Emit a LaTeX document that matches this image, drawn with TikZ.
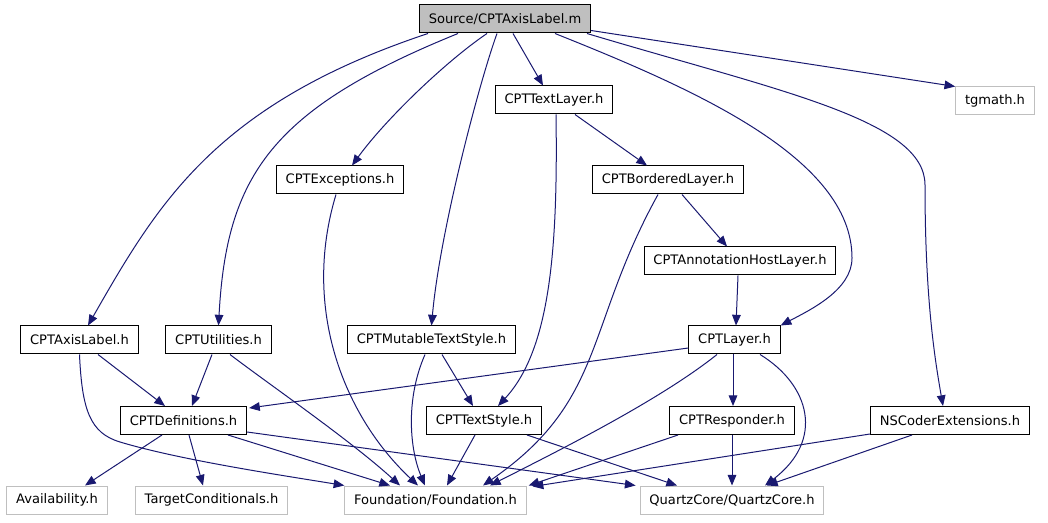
\documentclass[tikz,border=0pt]{standalone}
\usepackage{fontspec}
\setsansfont{DejaVu Sans}
\usepackage{tikz}
\usetikzlibrary{arrows.meta}
\definecolor{edgeBlue}{HTML}{191970}
\definecolor{extGray}{HTML}{BFBFBF}

\begin{document}
\begin{tikzpicture}[
    x=0.75pt, y=-0.75pt,
    fileNode/.style={rectangle, draw=black, line width=0.75pt, fill=white, font=\sffamily\fontsize{9.8}{11}\selectfont, minimum height=21pt, inner xsep=7pt, inner ysep=0pt},
    srcNode/.style={fileNode, fill=extGray},
    extNode/.style={fileNode, draw=extGray},
    depRel/.style={-{Triangle[length=8pt, width=6.5pt]}, edgeBlue, line width=0.75pt}
]
    \useasboundingbox (0,0) rectangle (1048,523);

    % Source file
    \node[srcNode] (src) at (505,19) {Source/CPTAxisLabel.m};

    % Included headers
    \node[fileNode] (textlayer)  at (554,100)   {CPTTextLayer.h};
    \node[extNode]  (tgmath)     at (995,101)   {tgmath.h};
    \node[fileNode] (exceptions) at (340,180)   {CPTExceptions.h};
    \node[fileNode] (bordered)   at (668,180)   {CPTBorderedLayer.h};
    \node[fileNode] (annothost)  at (740,261)   {CPTAnnotationHostLayer.h};
    \node[fileNode] (axislabel)  at (79.5,340)  {CPTAxisLabel.h};
    \node[fileNode] (utilities)  at (218.5,340) {CPTUtilities.h};
    \node[fileNode] (mutable)    at (431.5,340) {CPTMutableTextStyle.h};
    \node[fileNode] (layer)      at (734.5,340) {CPTLayer.h};
    \node[fileNode] (definitions) at (183.5,420.5) {CPTDefinitions.h};
    \node[fileNode] (textstyle)  at (484,420.5) {CPTTextStyle.h};
    \node[fileNode] (responder)  at (732,420.5) {CPTResponder.h};
    \node[fileNode] (nscoder)    at (950,420.5) {NSCoderExtensions.h};

    % System headers
    \node[extNode] (availability) at (57,500)    {Availability.h};
    \node[extNode] (target)       at (211.5,500) {TargetConditionals.h};
    \node[extNode] (foundation)   at (435.5,500) {Foundation/Foundation.h};
    \node[extNode] (quartz)       at (732,500)   {QuartzCore/QuartzCore.h};

    % From the source file
    \draw[depRel] ([shift={(-77,0)}]src.south) .. controls (216,104) and (158,203) .. ([shift={(8.5,0)}]axislabel.north);
    \draw[depRel] ([shift={(-47,0)}]src.south) .. controls (272,109) and (226.5,175) .. (utilities.north);
    \draw[depRel] ([shift={(-18,0)}]src.south) .. controls (445,62) and (385,120) .. ([shift={(12,0)}]exceptions.north);
    \draw[depRel] ([shift={(-8,0)}]src.south) .. controls (480,80) and (440,230) .. (mutable.north);
    \draw[depRel] ([shift={(8,0)}]src.south) -- ([shift={(-11,0)}]textlayer.north);
    \draw[depRel] ([shift={(50,0)}]src.south) .. controls (694,89) and (852,158) .. (852,258)
        .. controls (852,290) and (810,310) .. (layer.north east);
    \draw[depRel] ([shift={(82,0)}]src.south) .. controls (779,91) and (925,120) .. (925,185)
        .. controls (925,300) and (935,360) .. ([shift={(-7,0)}]nscoder.north);
    \draw[depRel] ([shift={(0,-3)}]src.south east) -- (tgmath.north west);

    % Layer classes
    \draw[depRel] ([shift={(21,0)}]textlayer.south) -- ([shift={(-21,0)}]bordered.north);
    \draw[depRel] ([shift={(2,0)}]textlayer.south) .. controls (558,250) and (550,350) .. ([shift={(14,0)}]textstyle.north);
    \draw[depRel] ([shift={(14,0)}]bordered.south) -- ([shift={(-13,0)}]annothost.north);
    \draw[depRel] ([shift={(-10,0)}]bordered.south) .. controls (584.5,327.5) and (606,400.5) .. ([shift={(47.5,0)}]foundation.north);
    \draw[depRel] ([shift={(-2,0)}]annothost.south) -- ([shift={(1.5,0)}]layer.north);
    \draw[depRel] ([shift={(-4,0)}]exceptions.south) .. controls (301,310) and (345,417) .. ([shift={(-17.5,0)}]foundation.north);

    % Middle row
    \draw[depRel] ([shift={(18.5,0)}]axislabel.south) -- ([shift={(-18.5,0)}]definitions.north);
    \draw[depRel] (axislabel.south) .. controls (82,410) and (90,433) .. (120,442)
        .. controls (180,460) and (280,475) .. (foundation.north west);
    \draw[depRel] ([shift={(-6.5,0)}]utilities.south) -- ([shift={(8.5,0)}]definitions.north);
    \draw[depRel] ([shift={(11.5,0)}]utilities.south) .. controls (270,385) and (350,440) .. ([shift={(-35.5,0)}]foundation.north);
    \draw[depRel] ([shift={(10.5,0)}]mutable.south) -- ([shift={(-11,0)}]textstyle.north);
    \draw[depRel] ([shift={(-6.5,0)}]mutable.south) .. controls (405,400) and (410,450) .. ([shift={(-10.5,0)}]foundation.north);
    \draw[depRel] ([shift={(0,8)}]layer.west) -- ([shift={(2,2)}]definitions.north east);
    \draw[depRel] ([shift={(-17.5,0)}]layer.south) .. controls (660,400) and (560,450) .. ([shift={(54.5,0)}]foundation.north);
    \draw[depRel] ([shift={(-1.5,0)}]layer.south) -- ([shift={(1,0)}]responder.north);
    \draw[depRel] ([shift={(25.5,0)}]layer.south) .. controls (810,385) and (825,440) .. ([shift={(33,0)}]quartz.north);

    % Lower row
    \draw[depRel] ([shift={(-21.5,0)}]definitions.south) -- ([shift={(28,0)}]availability.north);
    \draw[depRel] ([shift={(5.5,0)}]definitions.south) -- ([shift={(-8.5,0)}]target.north);
    \draw[depRel] ([shift={(44.5,0)}]definitions.south) -- ([shift={(-45.5,0)}]foundation.north);
    \draw[depRel] ([shift={(0,-3)}]definitions.south east) -- ([shift={(-4,0)}]quartz.north west);
    \draw[depRel] ([shift={(-9,0)}]textstyle.south) -- ([shift={(11.5,0)}]foundation.north);
    \draw[depRel] ([shift={(43,0)}]textstyle.south) -- ([shift={(-55,0)}]quartz.north);
    \draw[depRel] ([shift={(-54,0)}]responder.south) -- ([shift={(2,0)}]foundation.north east);
    \draw[depRel] (responder.south) -- (quartz.north);
    \draw[depRel] ([shift={(0,-1)}]nscoder.south west) -- ([shift={(6,1)}]foundation.north east);
    \draw[depRel] ([shift={(-38,0)}]nscoder.south) -- ([shift={(35,0)}]quartz.north);
\end{tikzpicture}
\end{document}
